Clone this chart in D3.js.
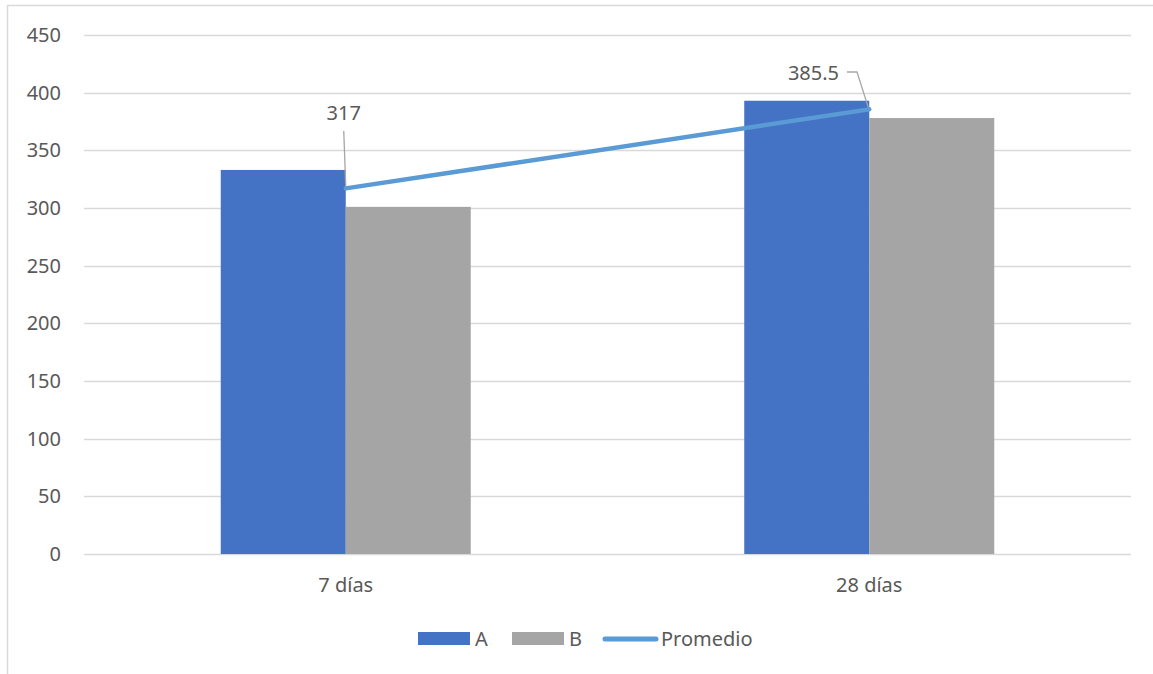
<!DOCTYPE html>
<html>
<head>
<meta charset="utf-8">
<script src="https://d3js.org/d3.v7.min.js"></script>
<style>
    body { margin: 0; background: #fff; }
    text { font-family: "Noto Sans", "Open Sans", sans-serif; fill: #595959; }
</style>
</head>
<body>
<div id="chart"></div>
<script>
    var categories = ['7 días', '28 días'];
    var valuesA = [333, 393];
    var valuesB = [301, 378];
    var promedio = [317, 385.5];
    var yTicks = [0, 50, 100, 150, 200, 250, 300, 350, 400, 450];

    var width = 1153, height = 674;
    var plotLeft = 84, plotRight = 1131, plotTop = 35, plotBottom = 554;

    var svg = d3.select('#chart').append('svg')
        .attr('width', width).attr('height', height);

    // chart frame
    svg.append('rect')
        .attr('x', 7.5).attr('y', 5.5)
        .attr('width', width + 10).attr('height', height + 10)
        .attr('fill', 'none').attr('stroke', '#d9d9d9').attr('stroke-width', 1.5);

    var x = d3.scaleBand().domain(categories).range([plotLeft, plotRight]);
    var y = d3.scaleLinear().domain([0, 450]).range([plotBottom, plotTop]);

    var inner = d3.scaleBand().domain(['A', 'B'])
        .range([x.bandwidth() / 2 - 125, x.bandwidth() / 2 + 125]);

    // gridlines
    svg.append('g').selectAll('line').data(yTicks).enter().append('line')
        .attr('x1', plotLeft).attr('x2', plotRight)
        .attr('y1', function (d) { return Math.round(y(d)) + 0.5; })
        .attr('y2', function (d) { return Math.round(y(d)) + 0.5; })
        .attr('stroke', '#d9d9d9').attr('stroke-width', 1.5);

    // y labels
    svg.append('g').selectAll('text').data(yTicks).enter().append('text')
        .attr('x', 61).attr('y', function (d) { return y(d); })
        .attr('dy', '0.35em').attr('text-anchor', 'end')
        .style('font-size', '20px')
        .text(function (d) { return d; });

    // bars
    var series = [
        { key: 'A', values: valuesA, color: '#4472c4' },
        { key: 'B', values: valuesB, color: '#a5a5a5' }
    ];
    series.forEach(function (s) {
        svg.append('g').selectAll('rect').data(categories).enter().append('rect')
            .attr('x', function (c) { return x(c) + inner(s.key); })
            .attr('width', inner.bandwidth())
            .attr('y', function (c, i) { return y(s.values[i]); })
            .attr('height', function (c, i) { return plotBottom - y(s.values[i]); })
            .attr('fill', s.color);
    });

    // category labels
    svg.append('g').selectAll('text').data(categories).enter().append('text')
        .attr('x', function (c) { return x(c) + x.bandwidth() / 2; })
        .attr('y', 592).attr('text-anchor', 'middle')
        .style('font-size', '20px')
        .text(function (c) { return c; });

    // average line
    var pts = categories.map(function (c, i) {
        return [x(c) + x.bandwidth() / 2, y(promedio[i])];
    });
    svg.append('path')
        .attr('d', d3.line()(pts))
        .attr('fill', 'none').attr('stroke', '#5b9bd5')
        .attr('stroke-width', 4.5).attr('stroke-linecap', 'round');

    // data labels with leader lines
    svg.append('path')
        .attr('d', d3.line()([[pts[0][0] - 2, 131], [pts[0][0], pts[0][1] - 2]]))
        .attr('fill', 'none').attr('stroke', '#a6a6a6').attr('stroke-width', 1.3);
    svg.append('text')
        .attr('x', pts[0][0] - 2).attr('y', 113).attr('dy', '0.35em')
        .attr('text-anchor', 'middle').style('font-size', '20px')
        .text(promedio[0]);

    svg.append('path')
        .attr('d', d3.line()([[847, 72], [857, 72], [pts[1][0] - 1, pts[1][1] - 2]]))
        .attr('fill', 'none').attr('stroke', '#a6a6a6').attr('stroke-width', 1.3);
    svg.append('text')
        .attr('x', 839).attr('y', 73).attr('dy', '0.35em')
        .attr('text-anchor', 'end').style('font-size', '20px')
        .text(promedio[1]);

    // legend
    var lg = svg.append('g');
    lg.append('rect').attr('x', 418).attr('y', 632).attr('width', 52).attr('height', 13).attr('fill', '#4472c4');
    lg.append('text').attr('x', 475).attr('y', 639).attr('dy', '0.35em').style('font-size', '20px').text('A');
    lg.append('rect').attr('x', 512).attr('y', 632).attr('width', 52).attr('height', 13).attr('fill', '#a5a5a5');
    lg.append('text').attr('x', 569).attr('y', 639).attr('dy', '0.35em').style('font-size', '20px').text('B');
    lg.append('line').attr('x1', 605).attr('x2', 656).attr('y1', 639).attr('y2', 639)
        .attr('stroke', '#5b9bd5').attr('stroke-width', 5).attr('stroke-linecap', 'round');
    lg.append('text').attr('x', 661).attr('y', 639).attr('dy', '0.35em').style('font-size', '20px').text('Promedio');
</script>
</body>
</html>
